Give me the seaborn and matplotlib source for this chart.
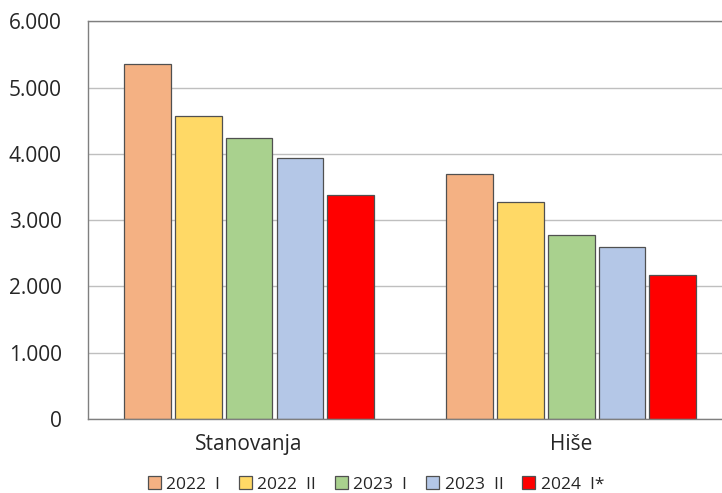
import matplotlib
matplotlib.use("Agg")
import matplotlib.pyplot as plt
from matplotlib.ticker import FuncFormatter
import seaborn as sns
import pandas as pd

categories = ["Stanovanja", "Hiše"]
periods = ["2022  I", "2022  II", "2023  I", "2023  II", "2024  I*"]
stanovanja = [5350, 4570, 4240, 3935, 3375]
hise = [3695, 3275, 2775, 2595, 2170]
colors = ["#F4B183", "#FFD966", "#A9D18E", "#B4C7E7", "#FF0000"]

rows = []
for p, s, h in zip(periods, stanovanja, hise):
    rows.append({"kat": categories[0], "obdobje": p, "val": s})
    rows.append({"kat": categories[1], "obdobje": p, "val": h})
df = pd.DataFrame(rows)

sns.set_style("white")
plt.rcParams["font.family"] = ["Open Sans", "DejaVu Sans"]

fig = plt.figure(figsize=(7.22, 4.93), dpi=100)
# right edge of the plot runs past the image, as in the original
ax = fig.add_axes([0.122, 0.150, 0.892, 0.807])

sns.barplot(data=df, x="kat", y="val", hue="obdobje", order=categories,
            hue_order=periods, palette=colors, saturation=1, width=0.79,
            gap=0.08, edgecolor="#505050", linewidth=0.9, ax=ax, legend=True)

ax.set_ylim(0, 6000)
ax.set_yticks(range(0, 6001, 1000))
ax.yaxis.set_major_formatter(FuncFormatter(lambda v, _: f"{int(v):,}".replace(",", ".")))
ax.grid(axis="y", color="#BFBFBF", linewidth=1)
ax.set_axisbelow(True)
for sp in ax.spines.values():
    sp.set_color("#7F7F7F")
    sp.set_linewidth(1)
ax.tick_params(axis="both", length=0, labelsize=15, colors="#262626")
ax.tick_params(axis="x", pad=11)
ax.tick_params(axis="y", pad=19)
ax.set_xlabel("")
ax.set_ylabel("")

handles, labels = ax.get_legend_handles_labels()
ax.legend(handles, labels, loc="upper center", bbox_to_anchor=(0.447, -0.105),
          ncol=5, frameon=False, fontsize=12.5, handlelength=0.75,
          handleheight=0.75, handletextpad=0.3, columnspacing=1.1)

fig.savefig("out.png", dpi=100)
